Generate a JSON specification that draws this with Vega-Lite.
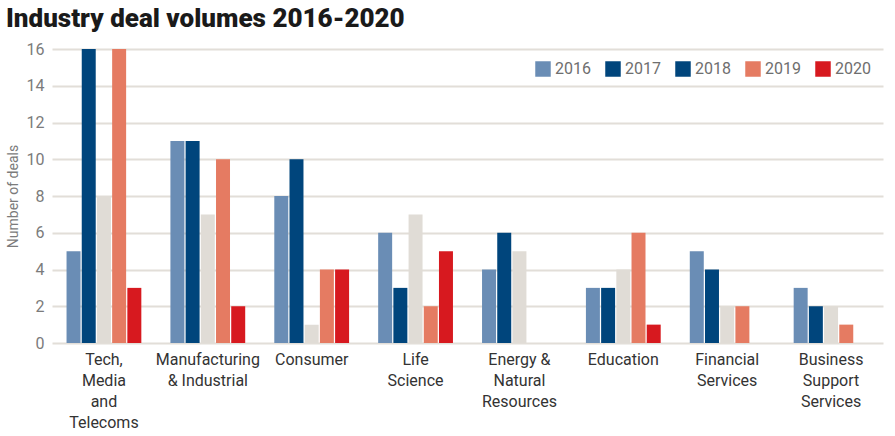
{
  "$schema": "https://vega.github.io/schema/vega-lite/v6.json",
  "autosize": {"type": "fit", "contains": "padding"},
  "width": 895,
  "height": 436,
  "padding": {"left": 6, "right": 12, "top": 6, "bottom": 6},
  "title": {
    "text": "Industry deal volumes 2016-2020",
    "anchor": "start",
    "frame": "bounds",
    "font": "Roboto",
    "fontWeight": 900,
    "fontSize": 26,
    "color": "#1a1a1a",
    "offset": 9
  },
  "config": {
    "view": {"stroke": null},
    "font": "Roboto",
    "axis": {"grid": false, "labelFont": "Roboto", "titleFont": "Roboto"},
    "legend": {"labelFont": "Roboto"}
  },
  "data": {
    "values": [
      {"industry": "Tech, Media and Telecoms", "year": "2016", "deals": 5},
      {"industry": "Tech, Media and Telecoms", "year": "2017", "deals": 16},
      {"industry": "Tech, Media and Telecoms", "year": "2018", "deals": 8},
      {"industry": "Tech, Media and Telecoms", "year": "2019", "deals": 16},
      {"industry": "Tech, Media and Telecoms", "year": "2020", "deals": 3},
      {"industry": "Manufacturing & Industrial", "year": "2016", "deals": 11},
      {"industry": "Manufacturing & Industrial", "year": "2017", "deals": 11},
      {"industry": "Manufacturing & Industrial", "year": "2018", "deals": 7},
      {"industry": "Manufacturing & Industrial", "year": "2019", "deals": 10},
      {"industry": "Manufacturing & Industrial", "year": "2020", "deals": 2},
      {"industry": "Consumer", "year": "2016", "deals": 8},
      {"industry": "Consumer", "year": "2017", "deals": 10},
      {"industry": "Consumer", "year": "2018", "deals": 1},
      {"industry": "Consumer", "year": "2019", "deals": 4},
      {"industry": "Consumer", "year": "2020", "deals": 4},
      {"industry": "Life Science", "year": "2016", "deals": 6},
      {"industry": "Life Science", "year": "2017", "deals": 3},
      {"industry": "Life Science", "year": "2018", "deals": 7},
      {"industry": "Life Science", "year": "2019", "deals": 2},
      {"industry": "Life Science", "year": "2020", "deals": 5},
      {"industry": "Energy & Natural Resources", "year": "2016", "deals": 4},
      {"industry": "Energy & Natural Resources", "year": "2017", "deals": 6},
      {"industry": "Energy & Natural Resources", "year": "2018", "deals": 5},
      {"industry": "Energy & Natural Resources", "year": "2019", "deals": 0},
      {"industry": "Energy & Natural Resources", "year": "2020", "deals": 0},
      {"industry": "Education", "year": "2016", "deals": 3},
      {"industry": "Education", "year": "2017", "deals": 3},
      {"industry": "Education", "year": "2018", "deals": 4},
      {"industry": "Education", "year": "2019", "deals": 6},
      {"industry": "Education", "year": "2020", "deals": 1},
      {"industry": "Financial Services", "year": "2016", "deals": 5},
      {"industry": "Financial Services", "year": "2017", "deals": 4},
      {"industry": "Financial Services", "year": "2018", "deals": 2},
      {"industry": "Financial Services", "year": "2019", "deals": 2},
      {"industry": "Financial Services", "year": "2020", "deals": 0},
      {"industry": "Business Support Services", "year": "2016", "deals": 3},
      {"industry": "Business Support Services", "year": "2017", "deals": 2},
      {"industry": "Business Support Services", "year": "2018", "deals": 2},
      {"industry": "Business Support Services", "year": "2019", "deals": 1},
      {"industry": "Business Support Services", "year": "2020", "deals": 0}
    ]
  },
  "encoding": {
    "x": {
      "field": "industry",
      "type": "nominal",
      "sort": null,
      "scale": {"paddingInner": 0.28, "paddingOuter": 0.14},
      "axis": {
        "title": null,
        "labelAngle": 0,
        "domain": false,
        "ticks": false,
        "labelFontSize": 16,
        "labelColor": "#333333",
        "labelPadding": 8,
        "labelLineHeight": 21,
        "labelExpr": "datum.label == 'Tech, Media and Telecoms' ? ['Tech,', 'Media', 'and', 'Telecoms'] : datum.label == 'Manufacturing & Industrial' ? ['Manufacturing', '& Industrial'] : datum.label == 'Life Science' ? ['Life', 'Science'] : datum.label == 'Energy & Natural Resources' ? ['Energy &', 'Natural', 'Resources'] : datum.label == 'Financial Services' ? ['Financial', 'Services'] : datum.label == 'Business Support Services' ? ['Business', 'Support', 'Services'] : datum.label"
      }
    },
    "xOffset": {
      "field": "year",
      "type": "nominal",
      "scale": {"paddingInner": 0.08}
    }
  },
  "layer": [
    {
      "mark": {"type": "bar"},
      "encoding": {
        "y": {
          "datum": 0,
          "type": "quantitative",
          "scale": {"domain": [0, 16]},
          "axis": {
            "title": "Number of deals",
            "titleFontSize": 14,
            "titleFontWeight": "normal",
            "titleColor": "#7b7b7b",
            "titlePadding": 6,
            "values": [0, 2, 4, 6, 8, 10, 12, 14, 16],
            "grid": true,
            "gridColor": "#e2ded8",
            "gridWidth": 2,
            "domain": false,
            "ticks": false,
            "labelFontSize": 16,
            "labelColor": "#7b7b7b",
            "labelPadding": 8
          }
        },
        "color": {
          "field": "year",
          "type": "nominal",
          "scale": {
            "domain": ["2016", "2017", "2018", "2019", "2020"],
            "range": ["#6a8db5", "#00457c", "#00457c", "#e57b62", "#d7191f"]
          },
          "legend": {
            "title": null,
            "orient": "top-right",
            "direction": "horizontal",
            "offset": 12,
            "symbolType": "square",
            "symbolSize": 240,
            "symbolStrokeWidth": 0,
            "labelFontSize": 16,
            "labelColor": "#6e6e6e",
            "labelOffset": 4,
            "columnPadding": 14
          }
        }
      }
    },
    {
      "mark": {"type": "bar"},
      "encoding": {
        "y": {
          "field": "deals",
          "type": "quantitative",
          "scale": {"domain": [0, 16]},
          "axis": {
            "title": "Number of deals",
            "titleFontSize": 14,
            "titleFontWeight": "normal",
            "titleColor": "#7b7b7b",
            "titlePadding": 6,
            "values": [0, 2, 4, 6, 8, 10, 12, 14, 16],
            "grid": true,
            "gridColor": "#e2ded8",
            "gridWidth": 2,
            "domain": false,
            "ticks": false,
            "labelFontSize": 16,
            "labelColor": "#7b7b7b",
            "labelPadding": 8
          }
        },
        "fill": {
          "field": "year",
          "type": "nominal",
          "scale": {
            "domain": ["2016", "2017", "2018", "2019", "2020"],
            "range": ["#6a8db5", "#00457c", "#e0dcd6", "#e57b62", "#d7191f"]
          },
          "legend": null
        }
      }
    }
  ]
}
